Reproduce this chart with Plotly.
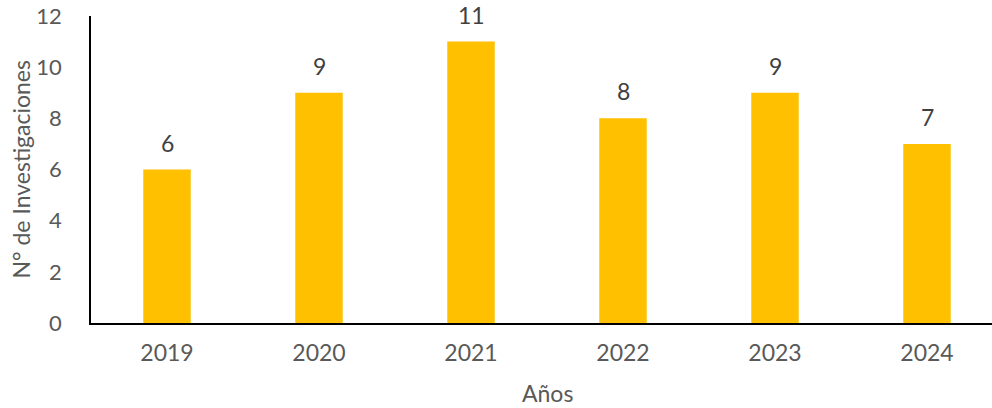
import plotly.graph_objects as go

# Number of studies per year
years = ["2019", "2020", "2021", "2022", "2023", "2024"]
counts = [6, 9, 11, 8, 9, 7]

y_ticks = [0, 2, 4, 6, 8, 10, 12]

bar_color = "#FFC000"
text_gray = "#595959"
label_gray = "#404040"
font_family = "Lato, 'Open Sans', sans-serif"
tick_size = 23
ytick_size = 22
title_size = 23

W, H = 992, 408
M_L, M_R, M_T, M_B = 91, 0, 16, 85
plot_w = W - M_L - M_R
plot_h = H - M_T - M_B

fig = go.Figure()
fig.add_trace(go.Bar(
    x=years,
    y=counts,
    marker=dict(color=bar_color, line=dict(width=0)),
    hoverinfo="x+y",
))

# value labels above each bar (category index used as x position)
for i, n in enumerate(counts):
    fig.add_annotation(
        x=i, y=n, xref="x", yref="y",
        text=str(n), showarrow=False,
        yanchor="bottom", yshift=11,
        font=dict(family=font_family, size=tick_size, color=label_gray),
    )

# x-axis title centred on the category band, around pixel row 393
fig.add_annotation(
    x=2.5, y=(H - M_B - 393) / plot_h, xref="x", yref="paper",
    text="Años", showarrow=False, yanchor="middle",
    font=dict(family=font_family, size=title_size, color=text_gray),
)

# y-axis title, rotated, centred around pixel column 20
fig.add_annotation(
    x=(20 - M_L) / plot_w, y=0.5, xref="paper", yref="paper",
    text="N° de Investigaciones", showarrow=False, textangle=-90,
    xanchor="center", yanchor="middle",
    font=dict(family=font_family, size=title_size, color=text_gray),
)

fig.update_layout(
    width=W, height=H,
    margin=dict(l=M_L, r=M_R, t=M_T, b=M_B),
    paper_bgcolor="white",
    plot_bgcolor="white",
    bargap=0.6875,
    showlegend=False,
    font=dict(family=font_family, size=tick_size, color=text_gray),
    xaxis=dict(
        type="category",
        range=[-0.5, 5.4276],
        showline=True, linecolor="black", linewidth=1.5,
        showgrid=False, ticks="", zeroline=False,
        tickfont=dict(family=font_family, size=tick_size, color=text_gray),
        ticklabelstandoff=9,
    ),
    yaxis=dict(
        range=[0, 12],
        tickvals=y_ticks,
        showline=True, linecolor="black", linewidth=1.5,
        showgrid=False, ticks="", zeroline=False,
        tickfont=dict(family=font_family, size=ytick_size, color=text_gray),
        ticklabelstandoff=23,
    ),
)

fig.write_html("out.html")
